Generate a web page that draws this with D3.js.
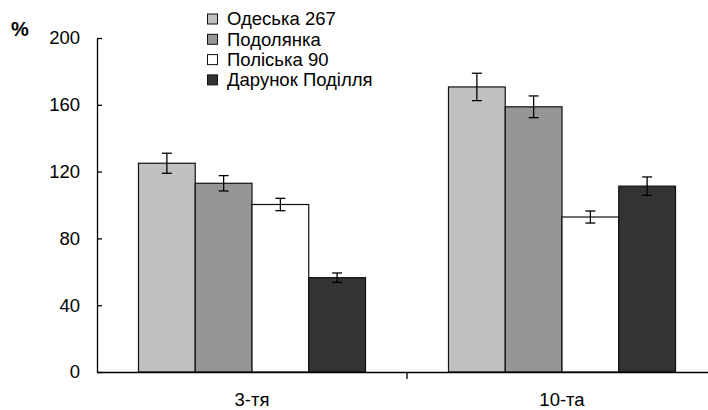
<!DOCTYPE html>
<html lang="uk">
<head>
<meta charset="UTF-8">
<title>Chart</title>
<script src="https://d3js.org/d3.v7.min.js"></script>
<style>
  body { margin: 0; background: #fff; }
  svg text { font-family: "Liberation Sans", Arial, sans-serif; fill: #000; }
</style>
</head>
<body>
<div id="chart"></div>
<script>
// data
var categories = ['3-тя', '10-та'];
var seriesNames = ['Одеська 267', 'Подолянка', 'Поліська 90', 'Дарунок Поділля'];
var seriesColors = ['#c0c0c0', '#969696', '#ffffff', '#333333'];
// values per series, one per category
var values = [
  [125, 170.7],
  [113, 158.8],
  [100.3, 92.8],
  [56.5, 111.3]
];
var errors = [
  [6, 8.2],
  [4.6, 6.5],
  [3.7, 3.6],
  [2.8, 5.5]
];
var yTicks = [0, 40, 80, 120, 160, 200];

var W = 708, H = 410;
var margin = { top: 38, right: -9, bottom: 38, left: 97 };
var width = W - margin.left - margin.right,
    height = H - margin.top - margin.bottom;
var fontSize = '18.5px';

var svg = d3.select('#chart').append('svg')
  .attr('width', W)
  .attr('height', H);

var g = svg.append('g')
  .attr('transform', 'translate(' + margin.left + ',' + margin.top + ')');

var x0 = d3.scaleBand()
  .domain(categories)
  .range([0, width])
  .paddingInner(0)
  .paddingOuter(0);

var groupPad = 41.5;
var x1 = d3.scaleBand()
  .domain(d3.range(seriesNames.length))
  .range([groupPad, x0.bandwidth() - groupPad]);

var y = d3.scaleLinear()
  .domain([0, 200])
  .range([height, 0]);

// bars
var rows = [];
seriesNames.forEach(function(s, si) {
  categories.forEach(function(c, ci) {
    rows.push({ s: si, c: c, v: values[si][ci], e: errors[si][ci] });
  });
});

g.selectAll('rect.bar').data(rows).enter().append('rect')
  .attr('class', 'bar')
  .attr('x', function(d) { return x0(d.c) + x1(d.s); })
  .attr('y', function(d) { return y(d.v); })
  .attr('width', x1.bandwidth())
  .attr('height', function(d) { return height - y(d.v); })
  .attr('fill', function(d) { return seriesColors[d.s]; })
  .attr('stroke', '#111')
  .attr('stroke-width', 1.2);

// error bars
var eb = g.selectAll('g.err').data(rows).enter().append('g')
  .attr('class', 'err')
  .attr('stroke', '#000')
  .attr('stroke-width', 1.3);
eb.append('line')
  .attr('x1', function(d) { return x0(d.c) + x1(d.s) + x1.bandwidth() / 2; })
  .attr('x2', function(d) { return x0(d.c) + x1(d.s) + x1.bandwidth() / 2; })
  .attr('y1', function(d) { return y(d.v + d.e); })
  .attr('y2', function(d) { return y(d.v - d.e); });
[1, -1].forEach(function(sign) {
  eb.append('line')
    .attr('x1', function(d) { return x0(d.c) + x1(d.s) + x1.bandwidth() / 2 - 5; })
    .attr('x2', function(d) { return x0(d.c) + x1(d.s) + x1.bandwidth() / 2 + 5; })
    .attr('y1', function(d) { return y(d.v + sign * d.e); })
    .attr('y2', function(d) { return y(d.v + sign * d.e); });
});

// y axis
var yAxis = g.append('g')
  .call(d3.axisLeft(y).tickValues(yTicks).tickSizeInner(-5).tickSizeOuter(0).tickPadding(17));
yAxis.select('.domain').attr('stroke', '#000').attr('stroke-width', 1.3);
yAxis.selectAll('.tick line').attr('stroke', '#000').attr('stroke-width', 1.3);
yAxis.selectAll('text')
  .style('font-size', fontSize)
  .attr('fill', '#000');

// x axis
var xAxis = g.append('g')
  .attr('transform', 'translate(0,' + height + ')')
  .call(d3.axisBottom(x0).tickSize(0).tickPadding(21));
xAxis.select('.domain').attr('stroke', '#000').attr('stroke-width', 1.3);
xAxis.selectAll('text')
  .style('font-size', fontSize)
  .attr('fill', '#000');
// category separators
xAxis.selectAll('line.sep').data(categories.slice(1)).enter().append('line')
  .attr('class', 'sep')
  .attr('x1', function(c) { return x0(c); })
  .attr('x2', function(c) { return x0(c); })
  .attr('y1', 0)
  .attr('y2', 7)
  .attr('stroke', '#000')
  .attr('stroke-width', 1.3);

// unit label
svg.append('text')
  .attr('x', 11)
  .attr('y', 36)
  .style('font-size', '20px')
  .style('font-weight', 'bold')
  .text('%');

// legend
var legend = svg.append('g')
  .attr('transform', 'translate(207,19)');
var li = legend.selectAll('g').data(seriesNames).enter().append('g')
  .attr('transform', function(d, i) { return 'translate(0,' + (i * 20.3) + ')'; });
li.append('rect')
  .attr('x', 0.5)
  .attr('y', -5)
  .attr('width', 10)
  .attr('height', 10)
  .attr('fill', function(d, i) { return seriesColors[i]; })
  .attr('stroke', '#111')
  .attr('stroke-width', 1);
li.append('text')
  .attr('x', 20)
  .attr('dy', '0.35em')
  .style('font-size', fontSize)
  .text(function(d) { return d; });
</script>
</body>
</html>
